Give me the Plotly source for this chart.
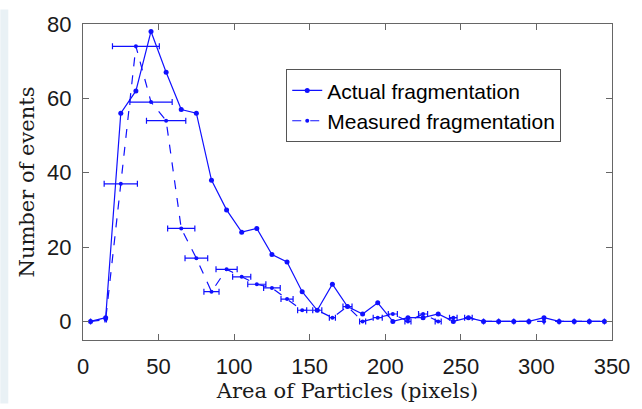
import plotly.graph_objects as go

# Data
area = [5, 15, 25, 35, 45, 55, 65, 75, 85, 95, 105, 115, 125, 135, 145, 155, 165, 175,
        185, 195, 205, 215, 225, 235, 245, 255, 265, 275, 285, 295, 305, 315, 325, 335, 345]
actual = [0, 1, 56, 62, 78, 67, 57, 56, 38, 30, 24, 25, 18, 16, 8, 3, 10, 4,
          2, 5, 0, 1, 1, 2, 0, 1, 0, 0, 0, 0, 1, 0, 0, 0, 0]
measured = [0, 0.5, 37, 74, 59, 54, 25, 17, 8, 14, 12, 10, 9, 6, 3, 3, 1, 4,
            0, 1, 2, 0, 2, 0, 1, 1, 0, 0, 0, 0, 0, 0, 0, 0, 0]
measured_xerr = [0, 0.5, 11, 15.5, 14, 13, 9, 7.5, 5, 7, 6, 6, 5.5, 4, 3, 3, 2, 3,
                 2, 3, 3, 2, 3, 2, 2.5, 2.5, 0, 0, 0, 0, 0, 0, 0, 0, 0]

x_ticks = [0, 50, 100, 150, 200, 250, 300, 350]
y_ticks = [0, 20, 40, 60, 80]

blue = "#1010ff"
axis_col = "#666666"

fig = go.Figure()
fig.add_trace(go.Scatter(
    x=area, y=actual, mode="lines+markers", name="Actual fragmentation",
    line=dict(color=blue, width=1.2),
    marker=dict(color=blue, size=5),
))
fig.add_trace(go.Scatter(
    x=area, y=measured, mode="lines+markers", name="Measured fragmentation",
    line=dict(color=blue, width=1.2, dash="dash"),
    marker=dict(color=blue, size=4),
    error_x=dict(type="data", array=measured_xerr, visible=True,
                 color=blue, thickness=1.2, width=3),
))

W, H = 642, 409
L, R, T, B = 83, 28, 15, 66
pw, ph = W - L - R, H - T - B

fig.update_layout(
    width=W, height=H,
    margin=dict(l=L, r=R, t=T, b=B),
    paper_bgcolor="white", plot_bgcolor="white",
    font=dict(family="Liberation Sans, Arial", size=22, color="#1a1a1a"),
    showlegend=True,
    legend=dict(
        x=(287 - L) / pw, y=(H - B - 62) / ph, xanchor="left", yanchor="top",
        bgcolor="white", bordercolor="#555555", borderwidth=1,
        font=dict(family="Liberation Sans, Arial", size=21, color="black"),
        tracegroupgap=0,
    ),
    shapes=[dict(
        type="rect", xref="paper", yref="paper",
        x0=-L / pw, x1=(8 - L) / pw, y0=-B / ph, y1=1 + T / ph,
        fillcolor="#e9f1f5", line=dict(width=0), layer="below",
    )],
)
fig.update_xaxes(
    range=[0, 350], tickvals=x_ticks, ticktext=[str(v) for v in x_ticks],
    showline=True, linecolor=axis_col, linewidth=1.3, mirror="ticks",
    ticks="inside", ticklen=6, tickcolor=axis_col, tickwidth=1,
    showgrid=False, zeroline=False,
    tickfont=dict(family="Liberation Sans, Arial", size=22, color="#1a1a1a"),
    title=dict(text="Area of Particles (pixels)", standoff=4,
               font=dict(family="DejaVu Serif", size=21, color="#1a1a1a")),
    ticklabelstandoff=6,
)
fig.update_yaxes(
    range=[-5, 80], tickvals=y_ticks, ticktext=[str(v) for v in y_ticks],
    showline=True, linecolor=axis_col, linewidth=1.3, mirror="ticks",
    ticks="inside", ticklen=6, tickcolor=axis_col, tickwidth=1,
    showgrid=False, zeroline=False,
    tickfont=dict(family="Liberation Sans, Arial", size=22, color="#1a1a1a"),
    title=dict(text="Number of events", standoff=6,
               font=dict(family="DejaVu Serif", size=21, color="#1a1a1a")),
    ticklabelstandoff=6,
)

fig.write_html("out.html")
